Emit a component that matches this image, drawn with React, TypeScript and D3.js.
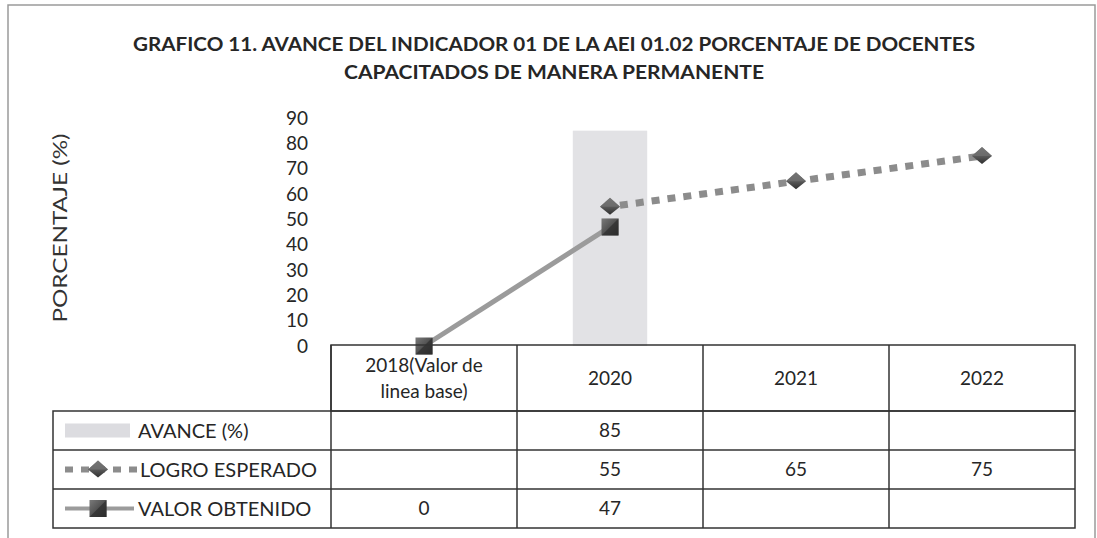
import React from "react";
import * as d3 from "d3";

// chart values
const categories = ["2018(Valor de linea base)", "2020", "2021", "2022"];
const categoryLines = [["2018(Valor de", "linea base)"], ["2020"], ["2021"], ["2022"]];
const avance: (number | null)[] = [null, 85, null, null];
const logroEsperado: (number | null)[] = [null, 55, 65, 75];
const valorObtenido: (number | null)[] = [0, 47, null, null];
const yTicks = [0, 10, 20, 30, 40, 50, 60, 70, 80, 90];
const seriesNames = ["AVANCE (%)", "LOGRO ESPERADO", "VALOR OBTENIDO"];
const titleLines = [
  "GRAFICO 11. AVANCE DEL INDICADOR 01 DE LA AEI 01.02 PORCENTAJE DE DOCENTES",
  "CAPACITADOS DE MANERA PERMANENTE",
];

const W = 1097;
const H = 538;
const FONT = "Lato, 'Open Sans', sans-serif";

export default function App() {
  const x = d3.scaleBand().domain(categories).range([331, 1075]);
  const y = d3.scaleLinear().domain([0, 90]).range([346, 118]);
  const cx = (c: string) => (x(c) as number) + x.bandwidth() / 2;
  const barW = x.bandwidth() * 0.4;

  const line = d3
    .line<number | null>()
    .defined(d => d !== null)
    .x((d, i) => cx(categories[i]))
    .y(d => y(d as number));

  // table geometry
  const tableLeft = 53;
  const headerTop = 345;
  const rowEdges = [411, 450, 489, 528];
  const rows = [avance, logroEsperado, valorObtenido];

  const diamond = (px: number, py: number, key: string) => (
    <g key={key} transform={`translate(${px},${py})`}>
      <path d="M0,-9 L10,0 L0,8 L-10,0 Z" fill="url(#diaGrad)" />
      <path d="M0,-9 L10,0 L-10,0 Z" fill="#6f6f6f" opacity={0.8} />
    </g>
  );
  const square = (px: number, py: number, key: string) => (
    <g key={key} transform={`translate(${px},${py})`}>
      <rect x={-8.5} y={-8.5} width={17} height={17} fill="url(#sqGrad)" />
      <path d="M-8.5,8.5 L8.5,-8.5 L8.5,8.5 Z" fill="#2e2e2e" opacity={0.7} />
    </g>
  );

  const txt = "#262626";

  return (
    <div style={{ position: "fixed", left: 0, top: 0 }}>
      <svg width={W} height={H} style={{ display: "block", background: "#fff" }}>
        <defs>
          <linearGradient id="diaGrad" x1="0" y1="0" x2="0" y2="1">
            <stop offset="0" stopColor="#8a8a8a" />
            <stop offset="1" stopColor="#2f2f2f" />
          </linearGradient>
          <linearGradient id="sqGrad" x1="0" y1="0" x2="1" y2="1">
            <stop offset="0" stopColor="#7a7a7a" />
            <stop offset="1" stopColor="#2a2a2a" />
          </linearGradient>
        </defs>

        {/* outer frame */}
        <path d={`M8,${H + 2} L8,5 L1095,5 L1095,${H + 2}`} fill="none" stroke="#9a9a9a" strokeWidth={1.5} />

        {/* title */}
        {titleLines.map((t, i) => (
          <text
            key={t}
            x={554}
            y={51 + i * 28}
            textAnchor="middle"
            fontFamily={FONT}
            fontWeight="bold"
            fontSize={18}
            fill={txt}
            textLength={i === 0 ? 842 : 420}
            lengthAdjust="spacingAndGlyphs"
          >
            {t}
          </text>
        ))}

        {/* y axis title */}
        <text
          transform="translate(67,228) rotate(-90)"
          textAnchor="middle"
          fontFamily={FONT}
          fontSize={20}
          fill="#333"
          textLength={189}
          lengthAdjust="spacingAndGlyphs"
        >
          PORCENTAJE (%)
        </text>

        {/* y tick labels */}
        {yTicks.map(t => (
          <text
            key={t}
            x={308}
            y={y(t)}
            dy="0.35em"
            textAnchor="end"
            fontFamily={FONT}
            fontSize={19}
            fill={txt}
          >
            {t}
          </text>
        ))}

        {/* avance bars */}
        {avance.map((v, i) =>
          v === null ? null : (
            <rect
              key={i}
              x={cx(categories[i]) - barW / 2}
              y={y(v)}
              width={barW}
              height={y(0) - y(v)}
              fill="#e2e2e5"
            />
          )
        )}

        {/* valor obtenido line */}
        <path d={line(valorObtenido) || ""} fill="none" stroke="#9b9b9b" strokeWidth={5} />
        {/* logro esperado dotted line */}
        <path
          d={line(logroEsperado) || ""}
          fill="none"
          stroke="#8c8c8c"
          strokeWidth={7}
          strokeDasharray="8 8"
          strokeDashoffset={-10}
        />

        {logroEsperado.map((v, i) => (v === null ? null : diamond(cx(categories[i]), y(v), "d" + i)))}
        {valorObtenido.map((v, i) => (v === null ? null : square(cx(categories[i]), y(v), "s" + i)))}

        {/* data table */}
        <g stroke="#333" strokeWidth={1.5} fill="none">
          <rect x={331} y={headerTop} width={1075 - 331} height={rowEdges[0] - headerTop} />
          <rect x={tableLeft} y={rowEdges[0]} width={1075 - tableLeft} height={rowEdges[3] - rowEdges[0]} />
          {rowEdges.slice(1, 3).map(r => (
            <line key={r} x1={tableLeft} x2={1075} y1={r} y2={r} />
          ))}
          {categories.map(c => (
            <line key={c} x1={x(c) as number} x2={x(c) as number} y1={headerTop} y2={rowEdges[3]} />
          ))}
        </g>

        {/* header labels */}
        {categories.map((c, i) => {
          const lines = categoryLines[i];
          const mid = (headerTop + rowEdges[0]) / 2;
          return lines.map((l, j) => (
            <text
              key={c + j}
              x={cx(c)}
              y={mid + (j - (lines.length - 1) / 2) * 26}
              dy="0.35em"
              textAnchor="middle"
              fontFamily={FONT}
              fontSize={19}
              fill={txt}
            >
              {l}
            </text>
          ));
        })}

        {/* table values */}
        {rows.map((r, ri) =>
          r.map((v, i) =>
            v === null ? null : (
              <text
                key={ri + "-" + i}
                x={cx(categories[i])}
                y={(rowEdges[ri] + rowEdges[ri + 1]) / 2}
                dy="0.35em"
                textAnchor="middle"
                fontFamily={FONT}
                fontSize={19}
                fill={txt}
              >
                {v}
              </text>
            )
          )
        )}

        {/* legend keys in table */}
        {seriesNames.map((s, ri) => {
          const my = (rowEdges[ri] + rowEdges[ri + 1]) / 2;
          return (
            <g key={s}>
              {ri === 0 && <rect x={65} y={my - 7} width={65} height={14} fill="#dcdce0" />}
              {ri === 1 && (
                <g>
                  <line x1={65} x2={138} y1={my} y2={my} stroke="#8c8c8c" strokeWidth={6} strokeDasharray="8 8" />
                  {diamond(98, my, "ld")}
                </g>
              )}
              {ri === 2 && (
                <g>
                  <line x1={65} x2={134} y1={my} y2={my} stroke="#9b9b9b" strokeWidth={4} />
                  {square(98, my, "ls")}
                </g>
              )}
              <text
                x={ri === 1 ? 140 : 138}
                y={my}
                dy="0.35em"
                fontFamily={FONT}
                fontSize={20}
                fill={txt}
              >
                {s}
              </text>
            </g>
          );
        })}
      </svg>
    </div>
  );
}
